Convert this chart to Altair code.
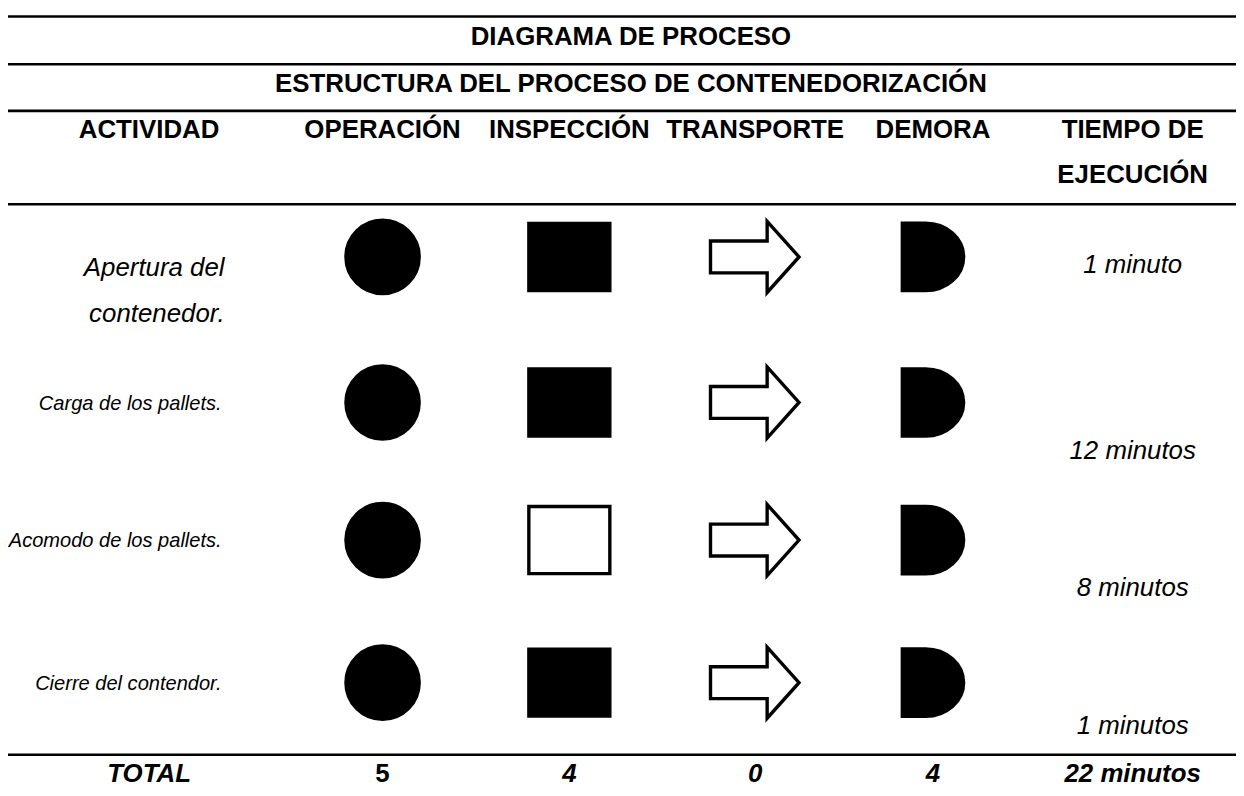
import altair as alt
import pandas as pd

# ---------------- data ----------------
TITULO = "DIAGRAMA DE PROCESO"
SUBTITULO = "ESTRUCTURA DEL PROCESO DE CONTENEDORIZACIÓN"
COLUMNAS = ["ACTIVIDAD", "OPERACIÓN", "INSPECCIÓN", "TRANSPORTE", "DEMORA", "TIEMPO DE\nEJECUCIÓN"]
ACTIVIDADES = ["Apertura del\ncontenedor.", "Carga de los pallets.",
               "Acomodo de los pallets.", "Cierre del contendor."]
OPERACION = ["lleno", "lleno", "lleno", "lleno"]
INSPECCION = ["lleno", "lleno", "vacío", "lleno"]
TRANSPORTE = ["vacío", "vacío", "vacío", "vacío"]
DEMORA = ["lleno", "lleno", "lleno", "lleno"]
TIEMPOS = ["1 minuto", "12 minutos", "8 minutos", "1 minutos"]
TOTALES = ["TOTAL", "5", "4", "0", "4", "22 minutos"]

# ---------------- tables built from the lists ----------------
titulos = pd.DataFrame({"texto": [TITULO, SUBTITULO], "k": [0, 1]})
cab = pd.DataFrame({"texto": COLUMNAS, "ci": list(range(len(COLUMNAS)))})
act = pd.DataFrame({"texto": ACTIVIDADES, "ri": list(range(len(ACTIVIDADES))), "ci": 0})
tie = pd.DataFrame({"texto": TIEMPOS, "ri": list(range(len(TIEMPOS))), "ci": len(COLUMNAS) - 1})
tot = pd.DataFrame({"texto": TOTALES, "ci": list(range(len(TOTALES)))})
sim = pd.DataFrame([
    {"ci": ci, "ri": ri, "estado": e}
    for ci, lst in [(1, OPERACION), (2, INSPECCION), (3, TRANSPORTE), (4, DEMORA)]
    for ri, e in enumerate(lst)
])
dummy = pd.DataFrame({"a": [0]})

# ---------------- layout / style ----------------
W, H = 1236, 780
FONT = "Liberation Sans"
FS = 26

xs = alt.Scale(domain=[0, 1, 2, 3, 4, 5], range=[142, 377, 565, 752, 931, 1132],
               zero=False, nice=False)
X = alt.X("ci:Q", scale=xs, axis=None)


def yrow(rng):
    return alt.Y("ri:Q", scale=alt.Scale(domain=[0, 1, 2, 3], range=rng, zero=False, nice=False),
                 axis=None)


FILL = alt.Fill("estado:N", scale=alt.Scale(domain=["lleno", "vacío"], range=["#000000", "#ffffff"]),
                legend=None)

layers = []

# horizontal rules of the table
for yv in [6, 54, 101, 195, 749]:
    layers.append(
        alt.Chart(dummy).mark_rule(color="black", strokeWidth=2.6).encode(
            x=alt.value(0), x2=alt.value(W), y=alt.value(yv))
    )

# titles
layers.append(
    alt.Chart(titulos).mark_text(font=FONT, fontSize=FS, fontWeight="bold", baseline="top",
                                 align="center", color="black").encode(
        x=alt.value(627),
        y=alt.Y("k:Q", scale=alt.Scale(domain=[0, 1], range=[13.3, 61.3], zero=False, nice=False),
                axis=None),
        text="texto:N")
)

# column headers
layers.append(
    alt.Chart(cab).mark_text(font=FONT, fontSize=FS, fontWeight="bold", baseline="top",
                             align="center", lineBreak="\n", lineHeight=45, color="black").encode(
        x=X, y=alt.value(107.3), text="texto:N")
)

# activity labels (first one larger, as in the source table)
YLAB = yrow([246.3, 386.5, 524.0, 668.0])
layers.append(
    alt.Chart(act).transform_filter(alt.datum.ri == 0).mark_text(
        font=FONT, fontSize=FS, fontStyle="italic", baseline="top", align="right", dx=76,
        lineBreak="\n", lineHeight=46, color="black").encode(
        x=X, y=YLAB, text="texto:N")
)
layers.append(
    alt.Chart(act).transform_filter(alt.datum.ri != 0).mark_text(
        font=FONT, fontSize=20.2, fontStyle="italic", baseline="top", align="right", dx=73,
        color="black").encode(
        x=X, y=YLAB, text="texto:N")
)

# times
layers.append(
    alt.Chart(tie).mark_text(font=FONT, fontSize=FS, fontStyle="italic", baseline="top",
                             align="center", color="black").encode(
        x=X, y=yrow([243.3, 430.3, 568.3, 707.3]), text="texto:N")
)

# symbols
SHAPES = {
    1: ("circle", 5432),
    2: ("M -0.959 -0.794 L 0.959 -0.794 L 0.959 0.794 L -0.959 0.794 Z", 7225),
    3: ("M -0.966 -0.345 L 0.26 -0.345 L 0.26 -0.77 L 0.95 0 L 0.26 0.77 L 0.26 0.345 "
        "L -0.966 0.345 Z", 8649),
    4: ("M -0.869 -0.954 L -0.21 -0.954 A 1.079 0.954 0 0 1 -0.21 0.954 L -0.869 0.954 Z", 5041),
}
YS = yrow([248, 394.5, 533, 676.5])
for ci, (shape, size) in SHAPES.items():
    layers.append(
        alt.Chart(sim).transform_filter(alt.datum.ci == ci).mark_point(
            shape=shape, size=size, filled=True, opacity=1, strokeWidth=3.4,
            strokeJoin="miter", strokeOpacity=1, fillOpacity=1).encode(
            x=X, y=YS, fill=FILL, stroke=alt.value("black"))
    )

# totals row
layers.append(
    alt.Chart(tot).transform_filter(alt.datum.ci != 1).mark_text(
        font=FONT, fontSize=FS, fontWeight="bold", fontStyle="italic", baseline="top",
        align="center", color="black").encode(x=X, y=alt.value(755.3), text="texto:N")
)
layers.append(
    alt.Chart(tot).transform_filter(alt.datum.ci == 1).mark_text(
        font=FONT, fontSize=FS, fontWeight="bold", baseline="top",
        align="center", color="black").encode(x=X, y=alt.value(755.3), text="texto:N")
)

chart = alt.layer(*layers).resolve_scale(y="independent").properties(
    width=W, height=H, padding=0, autosize=alt.AutoSizeParams(type="none"),
    background="white",
).configure_view(stroke=None)

chart.save("out.html", embed_options={"renderer": "svg", "actions": False})
